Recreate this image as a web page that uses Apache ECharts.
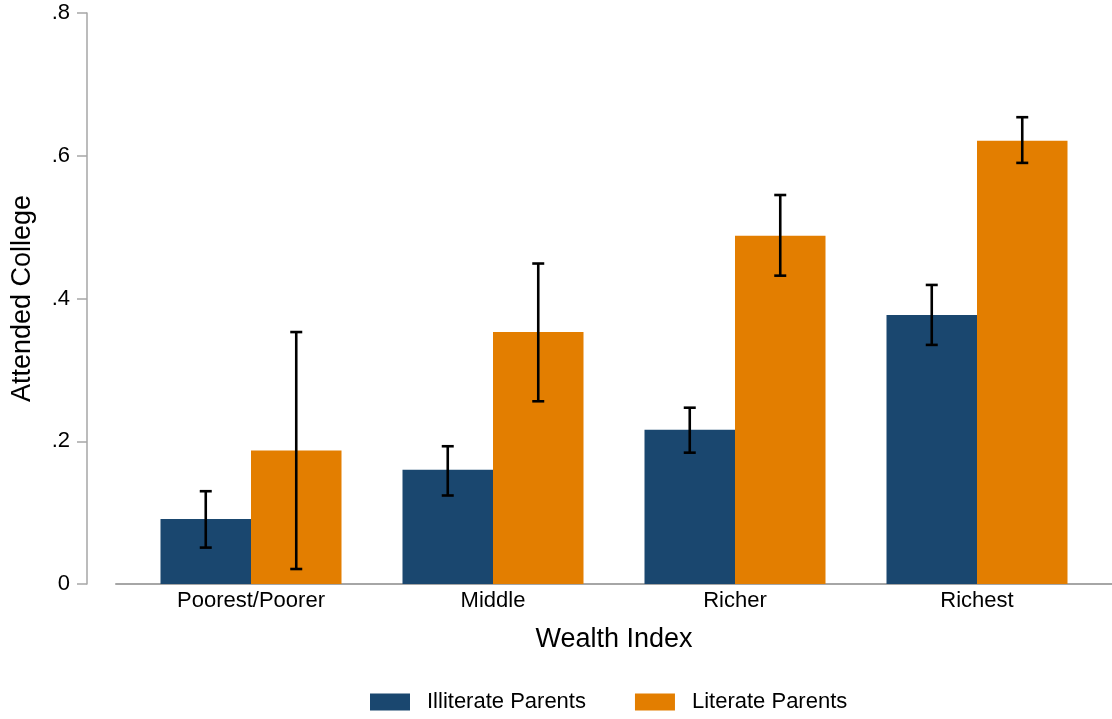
<!DOCTYPE html>
<html>
<head>
<meta charset="utf-8">
<script src="https://cdn.jsdelivr.net/npm/echarts@6/dist/echarts.min.js"></script>
<style>
html,body{margin:0;padding:0;background:#fff;}
#main{width:1112px;height:719px;}
</style>
</head>
<body>
<div id="main"></div>
<script>
const categories = ['Poorest/Poorer', 'Middle', 'Richer', 'Richest'];
const seriesNames = ['Illiterate Parents', 'Literate Parents'];
const illiterate = [0.091, 0.160, 0.216, 0.377];
const literate = [0.187, 0.353, 0.488, 0.621];
const illiterateLow = [0.051, 0.124, 0.184, 0.335];
const illiterateHigh = [0.130, 0.193, 0.247, 0.419];
const literateLow = [0.021, 0.256, 0.432, 0.590];
const literateHigh = [0.353, 0.449, 0.545, 0.654];
const yTickLabels = ['0', '.2', '.4', '.6', '.8'];

const colors = ['#1a476f', '#e37e00'];
const FONT = '"Liberation Sans", Arial, Helvetica, sans-serif';
const BAR_W = 90.5;
const axisGray = '#a6a6a6';

function errData(low, high) {
  return categories.map((c, i) => [i, low[i], high[i]]);
}

function makeErrRender(shift) {
  return function (params, api) {
    const x = api.value(0);
    const lo = api.coord([x, api.value(1)]);
    const hi = api.coord([x, api.value(2)]);
    const cx = lo[0] + shift;
    const cap = 6;
    const style = { stroke: '#000', lineWidth: 2.6 };
    return {
      type: 'group',
      children: [
        { type: 'line', shape: { x1: cx, y1: hi[1], x2: cx, y2: lo[1] }, style: style },
        { type: 'line', shape: { x1: cx - cap, y1: hi[1], x2: cx + cap, y2: hi[1] }, style: style },
        { type: 'line', shape: { x1: cx - cap, y1: lo[1], x2: cx + cap, y2: lo[1] }, style: style }
      ]
    };
  };
}

const chart = echarts.init(document.getElementById('main'), null, { renderer: 'canvas' });
chart.setOption({
  animation: false,
  backgroundColor: '#fff',
  textStyle: { fontFamily: FONT, color: '#000' },
  legend: {
    data: seriesNames,
    left: 365,
    top: 686,
    itemWidth: 40,
    itemHeight: 17,
    itemGap: 49,
    icon: 'rect',
    textStyle: { fontFamily: FONT, fontSize: 22, color: '#000', padding: [0, 0, 0, 12] }
  },
  grid: [
    { left: 130, right: 14, top: 13, bottom: 135, outerBoundsMode: 'none', containLabel: false },
    { left: 116, right: 0, top: 13, bottom: 135, outerBoundsMode: 'none', containLabel: false }
  ],
  xAxis: [
    {
      type: 'category',
      gridIndex: 0,
      data: categories,
      axisLine: { show: false },
      axisTick: { show: false },
      axisLabel: { fontFamily: FONT, fontSize: 22, color: '#000', margin: 6 },
      name: 'Wealth Index',
      nameLocation: 'middle',
      nameGap: 42,
      nameTextStyle: { fontFamily: FONT, fontSize: 27, color: '#000' }
    },
    {
      type: 'value',
      gridIndex: 1,
      min: 0, max: 1,
      axisLine: { show: true, lineStyle: { color: axisGray, width: 2 } },
      axisTick: { show: false },
      axisLabel: { show: false },
      splitLine: { show: false }
    }
  ],
  yAxis: [
    {
      type: 'value',
      gridIndex: 0,
      min: 0, max: 0.8, interval: 0.2,
      offset: 43,
      axisLine: { show: true, lineStyle: { color: axisGray, width: 1.5 } },
      axisTick: { show: true, inside: false, length: 10, lineStyle: { color: axisGray, width: 1.5 } },
      axisLabel: {
        fontFamily: FONT, fontSize: 22, color: '#000', margin: 17,
        formatter: function (v) { return yTickLabels[Math.round(v / 0.2)]; }
      },
      splitLine: { show: false },
      name: 'Attended College',
      nameLocation: 'middle',
      nameGap: 51,
      nameRotate: 90,
      nameTextStyle: { fontFamily: FONT, fontSize: 27, color: '#000' }
    },
    {
      type: 'value', gridIndex: 1, min: 0, max: 1, show: false
    }
  ],
  series: [
    {
      name: seriesNames[0], type: 'bar', xAxisIndex: 0, yAxisIndex: 0,
      data: illiterate, barWidth: BAR_W, barGap: '0%',
      itemStyle: { color: colors[0] }
    },
    {
      name: seriesNames[1], type: 'bar', xAxisIndex: 0, yAxisIndex: 0,
      data: literate, barWidth: BAR_W, barGap: '0%',
      itemStyle: { color: colors[1] }
    },
    {
      type: 'custom', xAxisIndex: 0, yAxisIndex: 0, z: 10,
      data: errData(illiterateLow, illiterateHigh),
      encode: { x: 0, y: [1, 2] },
      renderItem: makeErrRender(-BAR_W / 2)
    },
    {
      type: 'custom', xAxisIndex: 0, yAxisIndex: 0, z: 10,
      data: errData(literateLow, literateHigh),
      encode: { x: 0, y: [1, 2] },
      renderItem: makeErrRender(BAR_W / 2)
    }
  ]
});
</script>
</body>
</html>
